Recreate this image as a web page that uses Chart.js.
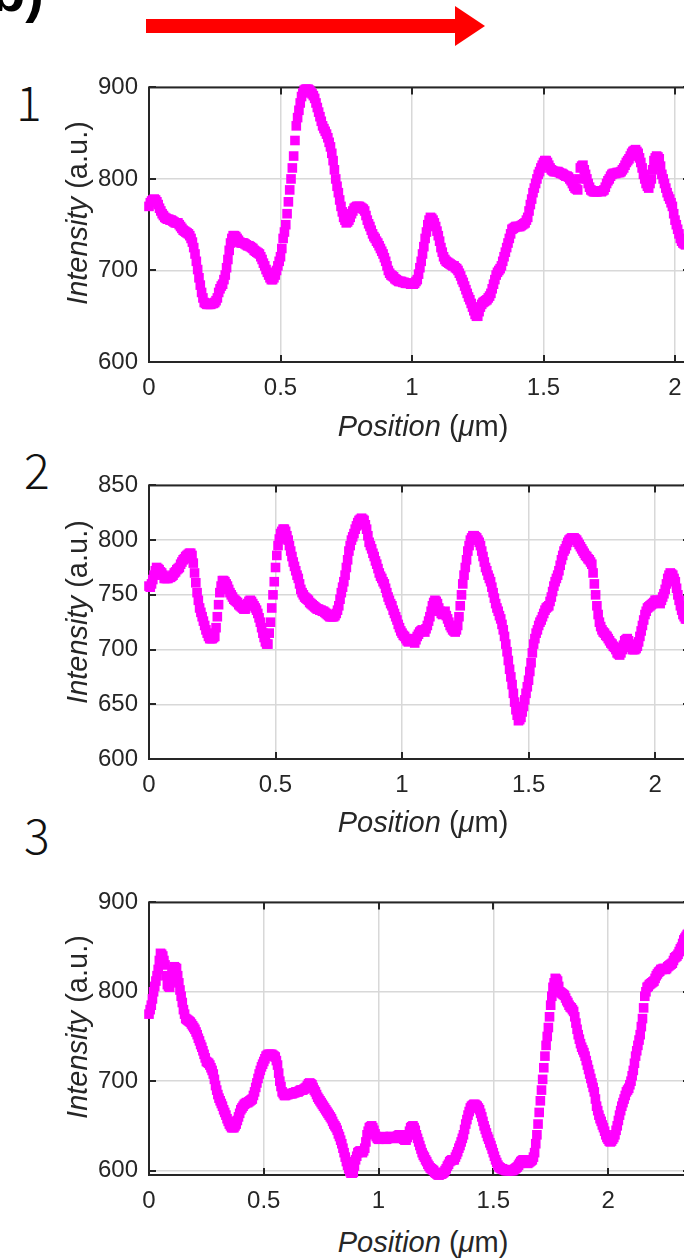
<!DOCTYPE html>
<html><head><meta charset="utf-8">
<script src="https://cdn.jsdelivr.net/npm/chart.js@4.4.0/dist/chart.umd.min.js"></script>
<style>
html,body{margin:0;padding:0;background:#fff;width:684px;height:1258px;overflow:hidden;position:relative;}
canvas{position:absolute;left:0;}
.lbl{position:absolute;font-family:"Liberation Sans",Arial,sans-serif;color:#262626;font-size:29px;white-space:nowrap;line-height:1;}
.ylab{transform:translate(-50%,-50%) rotate(-90deg);}
.xlab{transform:translate(-50%,-50%);}
.num{position:absolute;font-family:"Noto Sans CJK JP","Noto Sans",sans-serif;font-weight:300;font-size:48px;line-height:48px;color:#111;}
.tag{position:absolute;left:-9px;top:-36px;font-family:"Liberation Sans",Arial,sans-serif;font-weight:bold;font-size:56px;line-height:56px;color:#000;}
</style></head>
<body>
<div class="tag">b)</div>
<svg style="position:absolute;left:0;top:0" width="684" height="60">
  <rect x="146" y="19" width="310" height="14" fill="#ff0000"/>
  <polygon points="455,6 485,26 455,46" fill="#ff0000"/>
</svg>
<div class="num" style="left:16px;top:76px">1</div>
<div class="num" style="left:24px;top:444px">2</div>
<div class="num" style="left:24px;top:809px">3</div>

<canvas id="c1" width="700" height="350" style="top:62px;width:700px;height:350px"></canvas>
<canvas id="c2" width="700" height="349" style="top:460px;width:700px;height:349px"></canvas>
<canvas id="c3" width="700" height="348" style="top:877px;width:700px;height:348px"></canvas>

<div class="lbl ylab" style="left:77px;top:213px"><i>Intensity</i> (a.u.)</div>
<div class="lbl ylab" style="left:77px;top:612px"><i>Intensity</i> (a.u.)</div>
<div class="lbl ylab" style="left:77px;top:1027px"><i>Intensity</i> (a.u.)</div>
<div class="lbl xlab" style="left:423px;top:426px"><i>Position</i> (<i>μ</i>m)</div>
<div class="lbl xlab" style="left:423px;top:822px"><i>Position</i> (<i>μ</i>m)</div>
<div class="lbl xlab" style="left:423px;top:1242px"><i>Position</i> (<i>μ</i>m)</div>

<script>
// ---- data: intensity line profiles, one value every 0.005 µm (20 values per 0.1 µm row) ----
const STEP_UM = 0.005;
const X_TICKS = [0, 0.5, 1, 1.5, 2];
const Y_TICKS_1 = [600, 700, 800, 900];
const Y_TICKS_2 = [600, 650, 700, 750, 800, 850];
const Y_TICKS_3 = [600, 700, 800, 900];

const intensity1 = [
770,774,776,777,778,777,775,772,768,765,762,760,758,757,756,756,755,755,754,753,
752,752,752,750,748,746,744,743,742,741,740,738,735,731,725,718,710,701,692,684,
676,670,665,664,663,663,663,663,664,664,665,667,670,676,680,683,685,690,695,703,
712,722,730,735,738,738,737,735,733,731,730,730,730,729,728,727,727,726,725,724,
722,721,720,719,718,715,712,708,705,701,698,695,692,690,690,692,695,700,705,710,
715,724,735,742,750,762,775,788,800,812,825,842,858,867,875,883,890,894,897,898,
898,898,897,895,893,891,888,883,878,873,868,863,858,855,852,849,845,840,835,828,
820,810,800,792,785,777,770,764,758,755,752,753,755,758,762,765,768,769,770,770,
770,769,768,767,765,760,755,751,748,744,740,737,735,732,730,727,724,721,718,714,
710,705,700,697,695,694,693,691,690,689,688,688,688,687,687,686,686,686,686,685,
685,685,686,688,690,696,703,710,718,726,735,742,750,755,758,757,755,752,748,743,
738,732,725,720,715,712,710,709,708,707,706,705,705,703,702,700,697,694,690,687,
683,679,675,671,668,664,660,656,652,650,650,655,660,663,665,666,667,668,670,672,
675,680,685,690,695,698,700,702,705,710,715,720,725,730,735,740,745,746,747,748,
748,748,748,749,750,751,752,755,758,765,772,778,785,790,795,800,805,808,812,815,
818,820,820,818,815,812,810,809,808,808,808,808,807,806,806,805,804,803,803,802,
800,798,795,792,790,789,788,800,812,814,815,810,805,800,795,791,788,787,786,786,
786,786,787,787,786,787,788,791,795,798,800,803,805,806,806,806,807,807,807,808,
810,812,815,818,820,822,825,828,830,831,832,830,828,823,818,812,805,800,795,792,
790,795,800,810,820,823,825,824,822,814,805,800,795,790,785,781,778,774,770,762,
755,750,745,740,735,732,730,729,728,729,730,731
];

const intensity2 = [
758,757,760,764,768,772,775,774,773,771,770,768,765,765,765,765,766,766,767,768,
770,771,773,774,775,778,780,782,783,785,786,787,788,788,786,779,770,761,752,745,
738,734,730,726,722,718,715,712,710,710,710,711,712,720,730,741,752,758,763,763,
762,760,758,755,752,750,748,746,745,744,743,741,740,739,738,737,737,740,742,744,
745,744,742,740,738,736,733,729,725,720,715,711,707,705,705,715,725,738,750,762,
775,786,795,801,806,808,810,810,808,804,800,795,790,785,780,776,772,768,765,760,
755,752,750,748,747,746,745,743,742,741,740,739,738,737,737,736,736,735,735,734,
733,732,731,730,730,730,730,731,733,736,740,746,752,757,762,768,775,782,790,795,
800,803,806,810,813,816,818,819,820,819,818,814,810,804,798,795,792,788,785,781,
778,774,770,767,765,762,760,756,752,748,745,742,740,736,733,730,727,723,720,717,
715,713,712,710,708,707,708,709,710,708,706,709,712,714,716,717,718,717,716,719,
722,726,730,735,740,743,745,744,742,738,735,733,732,733,735,731,728,725,722,720,
718,717,716,718,722,730,740,750,760,768,775,782,790,795,800,802,804,804,803,802,
800,798,795,790,785,780,775,772,768,765,762,757,752,747,742,738,735,731,728,723,
718,712,705,698,690,682,675,668,660,652,645,640,635,636,638,643,648,654,660,666,
672,680,688,697,705,710,715,718,722,725,727,730,733,736,738,739,740,744,748,753,
758,762,765,768,772,777,782,786,790,792,795,798,800,801,802,802,802,801,800,798,
796,794,792,790,788,786,785,783,782,780,778,770,760,750,740,732,725,721,718,716,
715,713,712,710,708,706,705,703,702,700,697,696,695,697,700,704,708,709,710,708,
705,702,700,700,700,701,703,707,712,717,722,727,732,735,738,739,740,741,742,743,
745,745,745,744,742,745,748,751,755,760,765,768,770,769,768,765,762,756,750,745,
740,736,732,730,728,728,728,727
];

const intensity3 = [
775,780,785,792,800,806,812,818,825,835,843,842,840,835,830,818,808,806,805,812,
820,825,828,827,826,818,810,802,795,788,780,775,770,769,768,767,766,764,762,760,
758,755,752,748,745,741,738,734,730,726,722,721,720,718,715,712,708,702,695,690,
685,681,678,675,672,668,665,662,658,655,652,650,648,648,648,650,652,656,660,664,
668,670,672,674,675,676,676,677,678,679,680,684,688,693,698,703,708,712,716,719,
722,725,728,729,730,730,730,730,729,728,727,723,718,709,700,694,688,686,684,684,
685,685,686,686,686,686,687,687,688,688,688,689,690,690,690,691,692,693,695,697,
698,697,696,693,690,688,685,682,680,678,676,674,672,670,668,666,664,662,660,658,
655,652,650,648,645,641,638,634,630,625,620,615,610,606,602,599,597,597,598,605,
612,616,620,621,622,621,620,622,625,632,640,644,648,649,650,648,645,641,638,636,
635,635,636,637,638,636,635,635,636,637,638,638,637,636,636,637,638,639,640,639,
638,636,635,634,634,637,640,644,648,649,650,648,645,640,636,632,628,624,620,617,
615,612,610,607,605,603,602,601,600,598,597,596,595,595,596,596,597,598,600,602,
605,607,610,611,612,612,612,615,618,621,625,628,632,636,640,646,652,657,662,666,
670,672,673,674,674,673,672,670,668,664,660,655,650,646,642,638,635,631,628,624,
620,616,612,609,606,604,603,602,602,601,601,600,600,600,600,600,600,600,601,602,
603,604,606,608,610,611,612,611,610,609,608,609,610,611,612,615,620,630,640,652,
665,678,690,702,715,728,740,750,760,772,785,795,805,810,815,814,812,806,800,799,
798,797,796,793,790,788,785,783,782,780,778,772,765,758,752,747,742,738,735,732,
728,723,718,713,708,703,698,693,688,680,672,667,662,658,655,651,648,644,640,637,
635,633,632,633,635,637,640,645,650,656,662,667,672,676,680,684,688,690,692,696,
700,706,712,720,728,734,740,746,752,761,770,782,795,800,805,806,808,809,810,811,
812,815,818,820,822,823,825,825,826,826,825,826,828,829,830,831,832,835,838,839,
840,842,845,848,850,854,858,860,862,864,865
];

// ---- rendering ----
const toPoints = vals => vals.map((v, i) => ({ x: +(i * STEP_UM).toFixed(3), y: v }));

const boxPlugin = {
  id: 'matlabBox',
  beforeDatasetsDraw(chart) {
    const { ctx, chartArea: a, scales: { x, y } } = chart;
    ctx.save();
    ctx.strokeStyle = '#262626';
    ctx.lineWidth = 2;
    ctx.strokeRect(a.left, a.top, a.right - a.left, a.bottom - a.top);
    const tl = 7;
    ctx.beginPath();
    x.ticks.forEach(t => {
      const px = Math.round(x.getPixelForValue(t.value));
      ctx.moveTo(px, a.bottom); ctx.lineTo(px, a.bottom - tl);
      ctx.moveTo(px, a.top); ctx.lineTo(px, a.top + tl);
    });
    y.ticks.forEach(t => {
      const py = Math.round(y.getPixelForValue(t.value));
      ctx.moveTo(a.left, py); ctx.lineTo(a.left + tl, py);
      ctx.moveTo(a.right, py); ctx.lineTo(a.right - tl, py);
    });
    ctx.stroke();
    ctx.restore();
  }
};

function makeChart(id, values, yTicks, xMax, yMin, yMax) {
  const canvas = document.getElementById(id);
  return new Chart(canvas, {
    type: 'scatter',
    data: {
      datasets: [{
        data: toPoints(values),
        pointStyle: 'rect',
        pointRadius: 6.8,
        pointHoverRadius: 6.8,
        backgroundColor: '#ff00ff',
        borderWidth: 0,
        showLine: false,
        clip: false
      }]
    },
    options: {
      responsive: false,
      maintainAspectRatio: false,
      devicePixelRatio: 1,
      animation: false,
      events: [],
      layout: { padding: { top: 10, right: canvas.width - 690, left: 0, bottom: 0 } },
      plugins: { legend: { display: false }, tooltip: { enabled: false } },
      scales: {
        x: {
          type: 'linear', min: 0, max: xMax,
          afterBuildTicks: s => { s.ticks = X_TICKS.map(v => ({ value: v })); },
          afterFit: s => { s.height = 50; },
          border: { display: false },
          grid: { color: '#d8d8d8', lineWidth: 1.5, drawTicks: false },
          ticks: {
            color: '#262626', padding: 12, maxRotation: 0, autoSkip: false,
            font: { family: '"Liberation Sans", Arial, sans-serif', size: 24 },
            callback: v => String(v)
          }
        },
        y: {
          type: 'linear', min: yMin, max: yMax,
          afterBuildTicks: s => { s.ticks = yTicks.map(v => ({ value: v })); },
          afterFit: s => { s.width = 149; },
          border: { display: false },
          grid: { color: '#d8d8d8', lineWidth: 1.5, drawTicks: false },
          ticks: {
            color: '#262626', padding: 11, autoSkip: false,
            font: { family: '"Liberation Sans", Arial, sans-serif', size: 24 },
            callback: v => String(v)
          }
        }
      }
    },
    plugins: [boxPlugin]
  });
}

makeChart('c1', intensity1, Y_TICKS_1, 2.057, 600, 900);
makeChart('c2', intensity2, Y_TICKS_2, 2.138, 600, 850);
makeChart('c3', intensity3, Y_TICKS_3, 2.357, 595, 900);
</script>
</body></html>
